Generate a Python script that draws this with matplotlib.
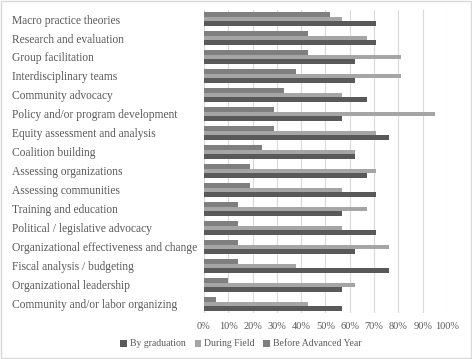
"""Skills timeline chart: share of students reporting each macro skill by stage."""

import matplotlib.pyplot as plt
import numpy as np
from matplotlib.patches import Rectangle
from matplotlib.ticker import PercentFormatter

SKILLS = [
    "Macro practice theories",
    "Research and evaluation",
    "Group facilitation",
    "Interdisciplinary teams",
    "Community advocacy",
    "Policy and/or program development",
    "Equity assessment and analysis",
    "Coalition building",
    "Assessing organizations",
    "Assessing communities",
    "Training and education",
    "Political / legislative advocacy",
    "Organizational effectiveness and change",
    "Fiscal analysis / budgeting",
    "Organizational leadership",
    "Community and/or labor organizing",
]
BY_GRADUATION = [71, 71, 62, 62, 67, 57, 76, 62, 67, 71, 57, 71, 62, 76, 57, 57]
DURING_FIELD = [57, 67, 81, 81, 57, 95, 71, 62, 71, 57, 67, 57, 76, 38, 62, 43]
BEFORE_ADVANCED = [52, 43, 43, 38, 33, 29, 29, 24, 19, 19, 14, 14, 14, 14, 10, 5]

TEXT = "#595959"
plt.rcParams["font.family"] = ["Liberation Serif", "DejaVu Serif"]

fig = plt.figure(figsize=(4.72, 3.59), dpi=100)
ax = fig.add_axes([0.432, 0.127, 0.515, 0.8465])

y = np.arange(len(SKILLS))
h = 0.245
ax.barh(y + h, BY_GRADUATION, height=h, color="#595959", label="By graduation")
ax.barh(y, DURING_FIELD, height=h, color="#a5a5a5", label="During Field")
ax.barh(y - h, BEFORE_ADVANCED, height=h, color="#7f7f7f", label="Before Advanced Year")

ax.set_ylim(len(SKILLS) - 0.5, -0.5)
ax.set_xlim(0, 100)
ax.set_xticks(np.arange(0, 101, 10))
ax.xaxis.set_major_formatter(PercentFormatter(decimals=0))
ax.set_yticks(y)
ax.set_yticklabels(SKILLS, fontsize=8.3, color=TEXT, ha="left")
ax.tick_params(axis="y", length=0, pad=138)
ax.tick_params(axis="x", length=0, labelsize=7.5, labelcolor=TEXT, pad=6)
ax.grid(axis="x", color="#d9d9d9", linewidth=0.8)
ax.set_axisbelow(True)
for s in ax.spines.values():
    s.set_visible(False)

ax.legend(loc="center", bbox_to_anchor=(241 / 472, 1 - 344 / 359),
          bbox_transform=fig.transFigure, ncol=3, frameon=False, fontsize=7,
          labelcolor=TEXT, handlelength=0.7, handleheight=0.7, handletextpad=0.3,
          columnspacing=0.9)

fig.patches.append(Rectangle((0.002, 0.003), 0.996, 0.994, transform=fig.transFigure,
                             fill=False, edgecolor="#d9d9d9", linewidth=1))

fig.savefig("out.png", dpi=100)
